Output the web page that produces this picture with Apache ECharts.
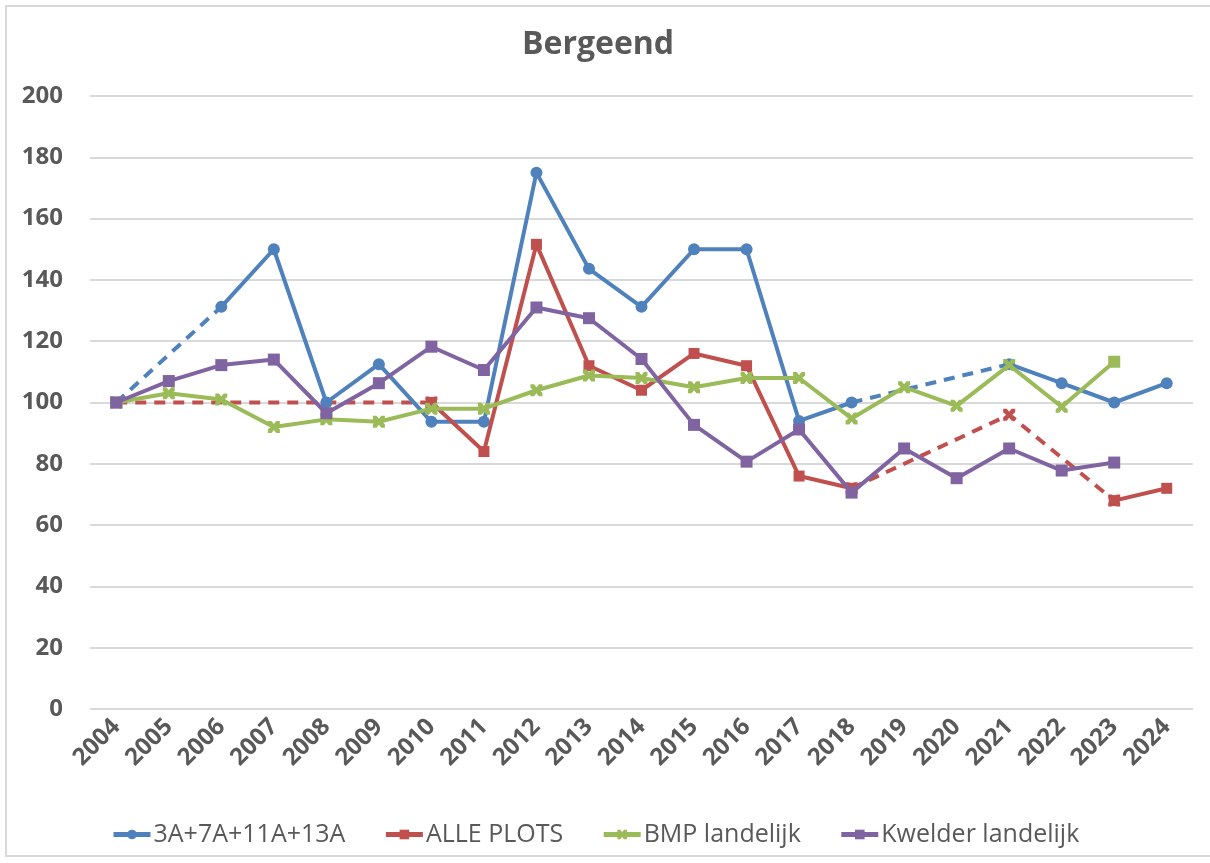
<!DOCTYPE html>
<html>
<head>
<meta charset="utf-8">
<script src="https://cdn.jsdelivr.net/npm/echarts@6/dist/echarts.min.js"></script>
<style>
html,body{margin:0;padding:0;background:#fff;}
#chart{width:1210px;height:863px;}
</style>
</head>
<body>
<div id="chart"></div>
<script>
var years = ['2004','2005','2006','2007','2008','2009','2010','2011','2012','2013','2014','2015','2016','2017','2018','2019','2020','2021','2022','2023','2024'];
var seriesNames = ['3A+7A+11A+13A','ALLE PLOTS','BMP landelijk','Kwelder landelijk'];
var yTicks = [0,20,40,60,80,100,120,140,160,180,200];

var blue   = [100,null,131.2,150,100,112.5,93.7,93.7,175,143.6,131.2,150,150,94,100,null,null,112.5,106.3,100,106.3];
var blueGapA = [100,null,131.2,null,null,null,null,null,null,null,null,null,null,null,null,null,null,null,null,null,null];
var blueGapB = [null,null,null,null,null,null,null,null,null,null,null,null,null,null,100,null,null,112.5,null,null,null];

var red    = [100,null,null,null,null,null,100,84,151.6,112,104,116,112,76,72,null,null,null,null,68,72];
var redGapA = [100,null,null,null,null,null,100,null,null,null,null,null,null,null,null,null,null,null,null,null,null];
var redGapB = [null,null,null,null,null,null,null,null,null,null,null,null,null,null,72,null,null,96,null,68,null];

var green  = [100,103,101,92,94.5,93.7,98,98,104,108.8,108,105,108,108,94.8,105,98.9,112.2,98.6,113.3,null];
var purple = [100,107,112.2,114,96.5,106.3,118.2,110.6,131,127.5,114.2,92.7,80.7,91.2,70.6,85,75.3,85,77.8,80.4,null];

var C_BLUE='#4F81BD', C_RED='#C0504D', C_GREEN='#9BBB59', C_PURPLE='#8064A2';
var XSYM = 'path://M0,0 L3,0 L5,2.5 L7,0 L10,0 L10,3 L7.5,5 L10,7 L10,10 L7,10 L5,7.5 L3,10 L0,10 L0,7 L2.5,5 L0,3 Z';
var FONT = 'Open Sans';
var LW = 4;

function lastAsRect(arr){
  var lastIdx = -1;
  for (var i=0;i<arr.length;i++) if (arr[i]!=null) lastIdx=i;
  return arr.map(function(v,i){
    if (i===lastIdx) return {value:v, symbol:'rect', symbolSize:12};
    return v;
  });
}

var chart = echarts.init(document.getElementById('chart'));
chart.setOption({
  animation:false,
  backgroundColor:'#fff',
  graphic:[{type:'rect',shape:{x:6,y:6,width:1300,height:850},style:{fill:'none',stroke:'#d9d9d9',lineWidth:2},silent:true,z:-10}],
  title:{text:'Bergeend',left:517,top:24,textStyle:{fontFamily:FONT,fontSize:32,fontWeight:'bold',color:'#595959'}},
  legend:{
    data:seriesNames,top:817,left:106,itemWidth:37,itemHeight:12,itemGap:38,
    lineStyle:{width:5},
    textStyle:{fontFamily:FONT,fontSize:25,color:'#595959',padding:[0,0,0,-2]}
  },
  grid:{left:90,right:17,top:96,bottom:154,containLabel:false},
  xAxis:{
    type:'category',data:years,boundaryGap:true,
    axisLine:{show:false},axisTick:{show:false},
    axisLabel:{rotate:45,interval:0,margin:14,fontFamily:FONT,fontSize:24,fontWeight:'bold',color:'#595959'}
  },
  yAxis:{
    type:'value',min:0,max:200,interval:20,
    axisLine:{show:false},axisTick:{show:false},
    axisLabel:{margin:27,fontFamily:FONT,fontSize:24,fontWeight:'bold',color:'#595959',
      formatter:function(v){return yTicks.indexOf(v)>=0?String(v):'';}},
    splitLine:{lineStyle:{color:'#d9d9d9',width:2}}
  },
  series:[
    {name:'blueGapA',type:'line',data:blueGapA,connectNulls:true,showSymbol:false,symbol:'none',lineStyle:{color:C_BLUE,width:LW,type:[11,8]},itemStyle:{color:C_BLUE},z:1},
    {name:'blueGapB',type:'line',data:blueGapB,connectNulls:true,showSymbol:false,symbol:'none',lineStyle:{color:C_BLUE,width:LW,type:[11,8]},itemStyle:{color:C_BLUE},z:1},
    {name:'redGapA',type:'line',data:redGapA,connectNulls:true,symbol:XSYM,symbolSize:12,lineStyle:{color:C_RED,width:LW,type:[11,8]},itemStyle:{color:C_RED},z:1},
    {name:'redGapB',type:'line',data:redGapB,connectNulls:true,symbol:XSYM,symbolSize:12,lineStyle:{color:C_RED,width:LW,type:[11,8]},itemStyle:{color:C_RED},z:1},
    {name:seriesNames[0],type:'line',data:blue,symbol:'circle',symbolSize:12,showAllSymbol:true,lineStyle:{color:C_BLUE,width:LW},itemStyle:{color:C_BLUE},z:2},
    {name:seriesNames[1],type:'line',data:red,symbol:'rect',symbolSize:11,showAllSymbol:true,lineStyle:{color:C_RED,width:LW},itemStyle:{color:C_RED},z:3},
    {name:seriesNames[2],type:'line',data:lastAsRect(green),symbol:XSYM,symbolSize:12,showAllSymbol:true,lineStyle:{color:C_GREEN,width:LW},itemStyle:{color:C_GREEN},z:4},
    {name:seriesNames[3],type:'line',data:purple,symbol:'rect',symbolSize:12,showAllSymbol:true,lineStyle:{color:C_PURPLE,width:LW},itemStyle:{color:C_PURPLE},z:5}
  ]
});
</script>
</body>
</html>
